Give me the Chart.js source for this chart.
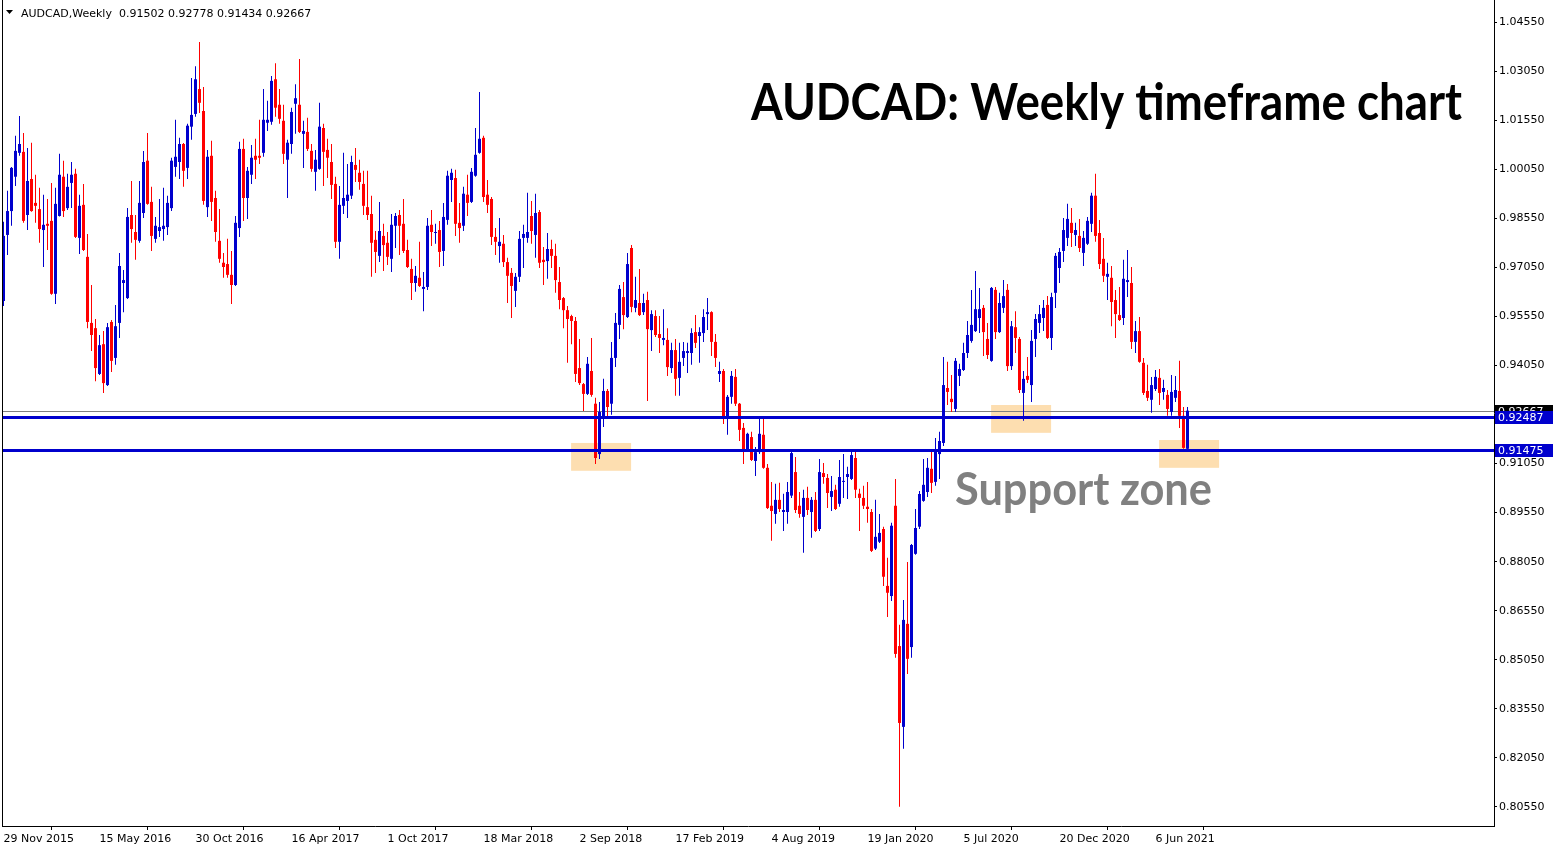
<!DOCTYPE html>
<html>
<head>
<meta charset="utf-8">
<script src="https://cdn.jsdelivr.net/npm/chart.js@4.4.0/dist/chart.umd.min.js"></script>
<style>
  html, body { margin: 0; padding: 0; background: #fff; overflow: hidden; }
</style>
</head>
<body>
<canvas id="grafico-audcad" width="1558" height="850"></canvas>
<script>
// weekly candles, 29 Nov 2015 .. 1 Aug 2021
const openPrices = [
  0.9602, 0.9804, 0.9877, 0.9982, 1.0055, 1.0058, 0.9865, 0.9975, 0.9902, 0.9883,
  0.9819, 0.9838, 0.9847, 0.9624, 0.9862, 0.9982, 0.9886, 0.9963, 0.9991, 0.9795,
  0.9896, 0.9737, 0.9535, 0.9519, 0.9379, 0.9470, 0.9345, 0.9538, 0.9428, 0.9535,
  0.9657, 0.9611, 0.9865, 0.9813, 0.9786, 0.9871, 1.0031, 0.9905, 0.9792, 0.9816,
  0.9822, 0.9828, 0.9886, 1.0012, 1.0027, 1.0082, 1.0009, 1.0135, 1.0174, 1.0250,
  1.0183, 0.9889, 1.0046, 0.9917, 0.9786, 0.9719, 0.9715, 0.9682, 0.9651, 0.9825,
  1.0067, 0.9917, 0.9988, 1.0046, 1.0046, 1.0055, 1.0147, 1.0150, 1.0280, 1.0202,
  1.0153, 1.0034, 1.0082, 1.0205, 1.0202, 1.0113, 1.0119, 1.0061, 0.9997, 1.0006,
  1.0131, 1.0064, 1.0027, 0.9960, 0.9783, 0.9893, 0.9908, 0.9924, 1.0018, 0.9994,
  0.9960, 0.9889, 0.9868, 0.9789, 0.9740, 0.9801, 0.9780, 0.9731, 0.9832, 0.9865,
  0.9838, 0.9758, 0.9700, 0.9657, 0.9673, 0.9639, 0.9645, 0.9835, 0.9810, 0.9819,
  0.9755, 0.9850, 0.9972, 0.9978, 0.9841, 0.9832, 0.9927, 0.9905, 0.9985, 1.0055,
  1.0101, 0.9927, 0.9914, 0.9798, 0.9770, 0.9777, 0.9721, 0.9688, 0.9633, 0.9676,
  0.9795, 0.9795, 0.9862, 0.9804, 0.9874, 0.9728, 0.9724, 0.9761, 0.9740, 0.9660,
  0.9611, 0.9574, 0.9556, 0.9541, 0.9397, 0.9348, 0.9318, 0.9388, 0.9288, 0.9134,
  0.9248, 0.9327, 0.9288, 0.9428, 0.9529, 0.9614, 0.9553, 0.9764, 0.9581, 0.9596,
  0.9568, 0.9605, 0.9513, 0.9556, 0.9501, 0.9483, 0.9483, 0.9397, 0.9452, 0.9367,
  0.9428, 0.9443, 0.9443, 0.9507, 0.9495, 0.9504, 0.9562, 0.9568, 0.9477, 0.9379,
  0.9388, 0.9248, 0.9309, 0.9370, 0.9288, 0.9214, 0.9144, 0.9186, 0.9113, 0.9140,
  0.9193, 0.9092, 0.8976, 0.8951, 0.8994, 0.8957, 0.8957, 0.9007, 0.9079, 0.8976,
  0.8942, 0.9000, 0.8957, 0.8994, 0.8905, 0.9076, 0.9061, 0.9003, 0.9025, 0.8982,
  0.9049, 0.9064, 0.9058, 0.9122, 0.9013, 0.9000, 0.8973, 0.8957, 0.8845, 0.8866,
  0.8905, 0.8731, 0.8700, 0.8976, 0.8547, 0.8300, 0.8615, 0.8544, 0.8829, 0.8912,
  0.8991, 0.9018, 0.9089, 0.9049, 0.9134, 0.9168, 0.9336, 0.9303, 0.9272, 0.9373,
  0.9391, 0.9443, 0.9480, 0.9510, 0.9550, 0.9581, 0.9486, 0.9419, 0.9636, 0.9507,
  0.9581, 0.9636, 0.9403, 0.9522, 0.9486, 0.9321, 0.9373, 0.9345, 0.9486, 0.9535,
  0.9550, 0.9590, 0.9489, 0.9627, 0.9703, 0.9755, 0.9795, 0.9841, 0.9804, 0.9801,
  0.9749, 0.9777, 0.9838, 0.9924, 0.9810, 0.9731, 0.9676, 0.9673, 0.9605, 0.9559,
  0.9550, 0.9660, 0.9657, 0.9477, 0.9510, 0.9413, 0.9327, 0.9300, 0.9333, 0.9367,
  0.9324, 0.9315, 0.9263, 0.9306, 0.9327, 0.9251, 0.91502
];
const highPrices = [
  0.9844, 0.9939, 1.0012, 1.0107, 1.0168, 1.0116, 1.0070, 1.0086, 0.9988, 0.9948,
  0.9927, 0.9914, 0.9963, 0.9948, 1.0052, 1.0031, 0.9991, 1.0027, 1.0006, 0.9927,
  0.9960, 0.9807, 0.9651, 0.9547, 0.9498, 0.9510, 0.9535, 0.9544, 0.9590, 0.9749,
  0.9697, 0.9886, 0.9969, 0.9865, 0.9969, 1.0061, 1.0116, 0.9951, 0.9859, 0.9914,
  0.9948, 0.9924, 1.0040, 1.0156, 1.0101, 1.0085, 1.0144, 1.0284, 1.0320, 1.0394,
  1.0256, 1.0064, 1.0092, 0.9939, 0.9883, 0.9749, 0.9792, 0.9755, 0.9862, 1.0089,
  1.0098, 1.0012, 1.0079, 1.0098, 1.0156, 1.0250, 1.0214, 1.0290, 1.0329, 1.0250,
  1.0202, 1.0095, 1.0193, 1.0265, 1.0342, 1.0153, 1.0162, 1.0082, 1.0064, 1.0208,
  1.0144, 1.0098, 1.0082, 0.9982, 0.9954, 1.0055, 1.0021, 1.0046, 1.0070, 1.0034,
  1.0000, 1.0000, 0.9924, 0.9816, 0.9905, 0.9838, 0.9813, 0.9868, 0.9871, 0.9880,
  0.9914, 0.9789, 0.9731, 0.9709, 0.9783, 0.9691, 0.9856, 0.9880, 0.9838, 0.9847,
  0.9902, 1.0000, 1.0006, 1.0003, 0.9902, 0.9951, 0.9988, 1.0009, 1.0131, 1.0241,
  1.0107, 0.9972, 0.9920, 0.9825, 0.9856, 0.9804, 0.9734, 0.9703, 0.9688, 0.9816,
  0.9835, 0.9933, 0.9908, 0.9930, 0.9880, 0.9767, 0.9810, 0.9789, 0.9777, 0.9706,
  0.9614, 0.9587, 0.9560, 0.9553, 0.9486, 0.9351, 0.9431, 0.9489, 0.9306, 0.9293,
  0.9364, 0.9333, 0.9477, 0.9565, 0.9651, 0.9660, 0.9749, 0.9773, 0.9676, 0.9700,
  0.9624, 0.9630, 0.9574, 0.9574, 0.9556, 0.9577, 0.9519, 0.9474, 0.9486, 0.9474,
  0.9477, 0.9474, 0.9519, 0.9559, 0.9522, 0.9577, 0.9611, 0.9571, 0.9501, 0.9416,
  0.9394, 0.9315, 0.9388, 0.9394, 0.9290, 0.9229, 0.9199, 0.9202, 0.9156, 0.9244,
  0.9244, 0.9104, 0.9049, 0.9043, 0.9046, 0.9013, 0.9049, 0.9140, 0.9125, 0.9018,
  0.9025, 0.9034, 0.9003, 0.9018, 0.9119, 0.9107, 0.9073, 0.9067, 0.9040, 0.9116,
  0.9134, 0.9095, 0.9144, 0.9140, 0.9028, 0.9037, 0.9049, 0.8966, 0.8994, 0.8951,
  0.8912, 0.8817, 0.8924, 0.9058, 0.8612, 0.8688, 0.8804, 0.8859, 0.8966, 0.9021,
  0.9119, 0.9122, 0.9144, 0.9183, 0.9202, 0.9431, 0.9416, 0.9376, 0.9428, 0.9410,
  0.9474, 0.9541, 0.9636, 0.9694, 0.9642, 0.9590, 0.9535, 0.9645, 0.9645, 0.9627,
  0.9666, 0.9654, 0.9541, 0.9571, 0.9492, 0.9388, 0.9431, 0.9513, 0.9562, 0.9590,
  0.9605, 0.9617, 0.9627, 0.9749, 0.9764, 0.9856, 0.9899, 0.9886, 0.9841, 0.9853,
  0.9816, 0.9859, 0.9933, 0.9991, 0.9850, 0.9795, 0.9719, 0.9709, 0.9636, 0.9645,
  0.9728, 0.9758, 0.9706, 0.9541, 0.9553, 0.9428, 0.9407, 0.9370, 0.9391, 0.9394,
  0.9361, 0.9330, 0.9376, 0.9373, 0.9419, 0.9278, 0.92778
];
const lowPrices = [
  0.9587, 0.9743, 0.9832, 0.9954, 1.0046, 0.9841, 0.9819, 0.9875, 0.9841, 0.9780,
  0.9706, 0.9758, 0.9621, 0.9593, 0.9860, 0.9859, 0.9880, 0.9886, 0.9795, 0.9746,
  0.9755, 0.9519, 0.9449, 0.9357, 0.9376, 0.9321, 0.9342, 0.9385, 0.9407, 0.9489,
  0.9568, 0.9608, 0.9780, 0.9728, 0.9780, 0.9856, 0.9896, 0.9755, 0.9780, 0.9798,
  0.9786, 0.9804, 0.9877, 0.9982, 0.9975, 0.9951, 0.9975, 1.0095, 1.0165, 1.0177,
  0.9896, 0.9859, 0.9847, 0.9783, 0.9719, 0.9673, 0.9673, 0.9593, 0.9648, 0.9798,
  0.9847, 0.9853, 0.9960, 0.9975, 1.0021, 1.0043, 1.0122, 1.0141, 1.0165, 1.0144,
  1.0021, 0.9917, 1.0052, 1.0113, 1.0116, 1.0009, 1.0061, 0.9997, 0.9939, 1.0003,
  0.9954, 0.9978, 0.9914, 0.9764, 0.9731, 0.9868, 0.9856, 0.9914, 0.9966, 0.9942,
  0.9865, 0.9850, 0.9676, 0.9688, 0.9721, 0.9694, 0.9712, 0.9691, 0.9764, 0.9743,
  0.9749, 0.9703, 0.9605, 0.9630, 0.9645, 0.9571, 0.9636, 0.9770, 0.9777, 0.9706,
  0.9709, 0.9835, 0.9905, 0.9801, 0.9780, 0.9816, 0.9862, 0.9902, 0.9982, 1.0052,
  0.9905, 0.9871, 0.9773, 0.9743, 0.9719, 0.9706, 0.9596, 0.9550, 0.9584, 0.9660,
  0.9703, 0.9780, 0.9777, 0.9734, 0.9703, 0.9651, 0.9670, 0.9703, 0.9627, 0.9577,
  0.9519, 0.9413, 0.9470, 0.9354, 0.9345, 0.9266, 0.9315, 0.9309, 0.9104, 0.9119,
  0.9217, 0.9244, 0.9254, 0.9400, 0.9486, 0.9516, 0.9550, 0.9568, 0.9568, 0.9556,
  0.9559, 0.9296, 0.9449, 0.9492, 0.9443, 0.9467, 0.9373, 0.9382, 0.9312, 0.9312,
  0.9403, 0.9382, 0.9407, 0.9458, 0.9413, 0.9477, 0.9513, 0.9434, 0.9400, 0.9354,
  0.9226, 0.9193, 0.9288, 0.9281, 0.9174, 0.9104, 0.9140, 0.9113, 0.9067, 0.9134,
  0.9089, 0.8966, 0.8869, 0.8921, 0.8957, 0.8899, 0.8921, 0.9000, 0.8954, 0.8939,
  0.8832, 0.8948, 0.8878, 0.8896, 0.8899, 0.9043, 0.8969, 0.8960, 0.8963, 0.8973,
  0.9000, 0.8997, 0.9055, 0.9000, 0.8899, 0.8966, 0.8924, 0.8835, 0.8841, 0.8862,
  0.8731, 0.8636, 0.8685, 0.8511, 0.8056, 0.8233, 0.8462, 0.8511, 0.8826, 0.8905,
  0.8988, 0.9003, 0.9015, 0.9037, 0.9058, 0.9159, 0.9284, 0.9263, 0.9263, 0.9342,
  0.9388, 0.9428, 0.9474, 0.9507, 0.9504, 0.9434, 0.9425, 0.9416, 0.9486, 0.9504,
  0.9565, 0.9388, 0.9391, 0.9443, 0.9321, 0.9236, 0.9351, 0.9293, 0.9431, 0.9504,
  0.9510, 0.9486, 0.9452, 0.9581, 0.9657, 0.9721, 0.9770, 0.9767, 0.9770, 0.9752,
  0.9709, 0.9773, 0.9813, 0.9783, 0.9700, 0.9660, 0.9605, 0.9525, 0.9489, 0.9541,
  0.9529, 0.9614, 0.9455, 0.9443, 0.9413, 0.9315, 0.9296, 0.9260, 0.9327, 0.9284,
  0.9300, 0.9251, 0.9251, 0.9293, 0.9214, 0.9150, 0.91434
];
const closePrices = [
  0.9801, 0.9877, 1.0009, 1.0061, 1.0082, 0.9847, 0.9969, 0.9877, 0.9893, 0.9822,
  0.9835, 0.9832, 0.9624, 0.9899, 0.9988, 0.9877, 0.9951, 0.9988, 0.9798, 0.9893,
  0.9758, 0.9538, 0.9498, 0.9397, 0.9467, 0.9351, 0.9522, 0.9419, 0.9525, 0.9709,
  0.9666, 0.9859, 0.9822, 0.9789, 0.9902, 1.0027, 0.9899, 0.9801, 0.9832, 0.9828,
  0.9832, 0.9902, 1.0031, 1.0043, 1.0082, 1.0000, 1.0138, 1.0171, 1.0280, 1.0208,
  0.9908, 1.0043, 0.9905, 0.9813, 0.9731, 0.9706, 0.9682, 0.9651, 0.9841, 1.0067,
  0.9917, 1.0000, 1.0040, 1.0034, 1.0040, 1.0156, 1.0156, 1.0275, 1.0193, 1.0159,
  1.0052, 1.0086, 1.0180, 1.0222, 1.0119, 1.0122, 1.0067, 1.0006, 1.0034, 1.0135,
  1.0058, 1.0040, 0.9957, 0.9783, 0.9896, 0.9917, 0.9927, 1.0027, 1.0003, 0.9966,
  0.9893, 0.9865, 0.9780, 0.9752, 0.9816, 0.9773, 0.9737, 0.9835, 0.9862, 0.9832,
  0.9755, 0.9706, 0.9657, 0.9679, 0.9648, 0.9645, 0.9832, 0.9813, 0.9813, 0.9752,
  0.9859, 0.9985, 0.9994, 0.9838, 0.9825, 0.9930, 0.9902, 0.9997, 1.0049, 1.0098,
  0.9920, 0.9896, 0.9798, 0.9783, 0.9783, 0.9721, 0.9679, 0.9648, 0.9676, 0.9792,
  0.9807, 0.9813, 0.9816, 0.9871, 0.9719, 0.9721, 0.9761, 0.9740, 0.9666, 0.9605,
  0.9574, 0.9547, 0.9541, 0.9379, 0.9351, 0.9318, 0.9410, 0.9315, 0.9122, 0.9263,
  0.9327, 0.9278, 0.9428, 0.9535, 0.9639, 0.9559, 0.9715, 0.9584, 0.9605, 0.9559,
  0.9596, 0.9516, 0.9562, 0.9498, 0.9489, 0.9489, 0.9400, 0.9452, 0.9364, 0.9416,
  0.9449, 0.9449, 0.9504, 0.9474, 0.9507, 0.9553, 0.9568, 0.9477, 0.9428, 0.9388,
  0.9248, 0.9309, 0.9373, 0.9288, 0.9208, 0.9147, 0.9196, 0.9116, 0.9140, 0.9196,
  0.9092, 0.8969, 0.8960, 0.8994, 0.8966, 0.8963, 0.9018, 0.9137, 0.8963, 0.8951,
  0.9000, 0.8963, 0.8994, 0.8899, 0.9079, 0.9064, 0.9015, 0.9021, 0.8966, 0.9064,
  0.9052, 0.9073, 0.9131, 0.9025, 0.9000, 0.8976, 0.8966, 0.8838, 0.8881, 0.8893,
  0.8759, 0.8710, 0.8915, 0.8523, 0.8312, 0.8627, 0.8508, 0.8856, 0.8908, 0.9012,
  0.9040, 0.9092, 0.9046, 0.9147, 0.9174, 0.9345, 0.9324, 0.9293, 0.9419, 0.9394,
  0.9443, 0.9498, 0.9529, 0.9577, 0.9577, 0.9507, 0.9437, 0.9642, 0.9507, 0.9596,
  0.9617, 0.9403, 0.9525, 0.9489, 0.9330, 0.9364, 0.9361, 0.9480, 0.9547, 0.9562,
  0.9581, 0.9489, 0.9614, 0.9740, 0.9752, 0.9819, 0.9853, 0.9810, 0.9819, 0.9764,
  0.9795, 0.9847, 0.9924, 0.9801, 0.9715, 0.9679, 0.9685, 0.9599, 0.9562, 0.9544,
  0.9670, 0.9666, 0.9477, 0.9510, 0.9416, 0.9321, 0.9306, 0.9345, 0.9370, 0.9321,
  0.9336, 0.9272, 0.9324, 0.9330, 0.9251, 0.9153, 0.92667
];

const dateLabels = ['29 Nov 2015', '15 May 2016', '30 Oct 2016', '16 Apr 2017', '1 Oct 2017',
  '18 Mar 2018', '2 Sep 2018', '17 Feb 2019', '4 Aug 2019', '19 Jan 2020', '5 Jul 2020',
  '20 Dec 2020', '6 Jun 2021'];
const dateLabelWeeks = [0, 24, 48, 72, 96, 120, 144, 168, 192, 216, 240, 264, 288];
const priceTicks = [1.0455, 1.0305, 1.0155, 1.0005, 0.9855, 0.9705, 0.9555, 0.9405,
  0.9255, 0.9105, 0.8955, 0.8805, 0.8655, 0.8505, 0.8355, 0.8205, 0.8055];

const symbolName = 'AUDCAD,Weekly';
const supportLevels = [0.92487, 0.91475];
const bidPrice = 0.92667;
// [first week, last week, low, high]
const supportBoxes = [
  [141.9, 156.9, 0.9083, 0.9168],
  [246.9, 261.9, 0.9199, 0.9284],
  [288.9, 303.9, 0.9092, 0.9177]
];

const azul = '#0000CD';
const vermelho = '#FF0000';
const coresVelas = closePrices.map((c, i) => c >= openPrices[i] ? azul : vermelho);

function textoAjustado(ctx, texto, x, base, largura) {
  const w = ctx.measureText(texto).width;
  ctx.save();
  ctx.translate(x, base);
  ctx.scale(largura / w, 1);
  ctx.fillText(texto, 0, 0);
  ctx.restore();
}

const desenhos = {
  id: 'desenhos',
  beforeDatasetsDraw(chart) {
    const { ctx, chartArea, scales: { x, y } } = chart;
    ctx.save();
    ctx.fillStyle = 'rgb(253, 222, 176)';
    supportBoxes.forEach(b => {
      const x1 = x.getPixelForValue(b[0]);
      const x2 = x.getPixelForValue(b[1]);
      const y1 = y.getPixelForValue(b[3]);
      const y2 = y.getPixelForValue(b[2]);
      ctx.fillRect(x1, y1, x2 - x1, y2 - y1);
    });
    ctx.strokeStyle = 'rgb(128, 128, 128)';
    ctx.lineWidth = 1;
    const yb = Math.round(y.getPixelForValue(bidPrice)) + 0.5;
    ctx.beginPath();
    ctx.moveTo(chartArea.left, yb);
    ctx.lineTo(chartArea.right, yb);
    ctx.stroke();
    ctx.restore();
  },
  afterDatasetsDraw(chart) {
    const { ctx, chartArea, scales: { y } } = chart;
    ctx.save();
    ctx.strokeStyle = azul;
    ctx.lineWidth = 3;
    supportLevels.forEach(v => {
      const yy = Math.round(y.getPixelForValue(v)) + 0.5;
      ctx.beginPath();
      ctx.moveTo(chartArea.left, yy);
      ctx.lineTo(chartArea.right, yy);
      ctx.stroke();
    });
    ctx.restore();
  },
  afterDraw(chart) {
    const { ctx, chartArea, scales: { y } } = chart;
    ctx.save();
    // left frame line
    ctx.strokeStyle = '#000';
    ctx.lineWidth = 1;
    ctx.beginPath();
    ctx.moveTo(chartArea.left + 0.5, 0);
    ctx.lineTo(chartArea.left + 0.5, chartArea.bottom);
    ctx.stroke();

    // price boxes on the axis
    ctx.font = '11px "DejaVu Sans"';
    ctx.textBaseline = 'middle';
    const caixas = [[bidPrice, '#000000'], [supportLevels[0], azul], [supportLevels[1], azul]];
    caixas.forEach(([v, cor]) => {
      const yy = Math.round(y.getPixelForValue(v));
      ctx.fillStyle = cor;
      ctx.fillRect(chartArea.right + 1, yy - 6, 58, 13);
      ctx.fillStyle = '#fff';
      ctx.fillText(v.toFixed(5), chartArea.right + 4, yy + 1);
    });

    // header
    const n = closePrices.length - 1;
    ctx.fillStyle = '#000';
    ctx.beginPath();
    ctx.moveTo(6, 10);
    ctx.lineTo(13, 10);
    ctx.lineTo(9.5, 14);
    ctx.closePath();
    ctx.fill();
    ctx.textBaseline = 'alphabetic';
    ctx.fillStyle = '#000';
    ctx.font = '11px "DejaVu Sans"';
    const cab = symbolName + '  ' + [openPrices[n], highPrices[n], lowPrices[n], closePrices[n]]
      .map(v => v.toFixed(5)).join(' ');
    ctx.fillText(cab, 21, 17);

    // annotations
    ctx.fillStyle = '#000';
    ctx.font = 'bold 52px Lato';
    textoAjustado(ctx, 'AUDCAD: Weekly timeframe chart', 751, 120, 711);
    ctx.fillStyle = 'rgb(128, 128, 128)';
    ctx.font = 'bold 46px Lato';
    textoAjustado(ctx, 'Support zone', 955, 505, 257);
    ctx.restore();
  }
};

const ctx = document.getElementById('grafico-audcad').getContext('2d');
const graficoAudcad = new Chart(ctx, {
  type: 'bar',
  data: {
    datasets: [{
      label: 'wicks',
      data: lowPrices.map((l, i) => ({ x: i, y: [l, highPrices[i]] })),
      backgroundColor: coresVelas,
      barThickness: 1,
      grouped: false,
      inflateAmount: 0,
      borderWidth: 0,
      minBarLength: 1,
      order: 2
    }, {
      label: 'bodies',
      data: openPrices.map((o, i) => ({ x: i, y: [o, closePrices[i]] })),
      backgroundColor: coresVelas,
      barThickness: 3,
      grouped: false,
      inflateAmount: 0,
      borderWidth: 0,
      minBarLength: 1,
      order: 1
    }]
  },
  options: {
    responsive: false,
    animation: false,
    devicePixelRatio: 1,
    layout: { padding: { left: 2, right: 0, top: 0, bottom: 0 } },
    plugins: { legend: { display: false }, tooltip: { enabled: false } },
    scales: {
      x: {
        type: 'linear',
        position: 'bottom',
        min: -0.375,
        max: 372.625,
        offset: false,
        afterBuildTicks: axis => { axis.ticks = dateLabelWeeks.map(v => ({ value: v })); },
        afterFit: axis => {
          axis.height = 24;
          axis.paddingLeft = 0;
          axis.paddingRight = 0;
        },
        ticks: {
          autoSkip: false,
          maxRotation: 0,
          minRotation: 0,
          align: 'start',
          padding: 3,
          color: '#000',
          font: { family: 'DejaVu Sans', size: 11 },
          callback: (v, i) => dateLabels[i]
        },
        grid: { drawOnChartArea: false, drawTicks: true, tickLength: 4, color: '#000' },
        border: { display: true, color: '#000' }
      },
      y: {
        position: 'right',
        min: 0.79969,
        max: 1.05223,
        afterBuildTicks: axis => { axis.ticks = priceTicks.map(v => ({ value: v })); },
        afterFit: axis => {
          axis.width = 64;
          axis.paddingTop = 0;
          axis.paddingBottom = 0;
        },
        ticks: {
          padding: 2,
          color: '#000',
          font: { family: 'DejaVu Sans', size: 11 },
          callback: v => v.toFixed(5)
        },
        grid: { drawOnChartArea: false, drawTicks: true, tickLength: 3, color: '#000' },
        border: { display: true, color: '#000' }
      }
    }
  },
  plugins: [desenhos]
});
</script>
</body>
</html>
